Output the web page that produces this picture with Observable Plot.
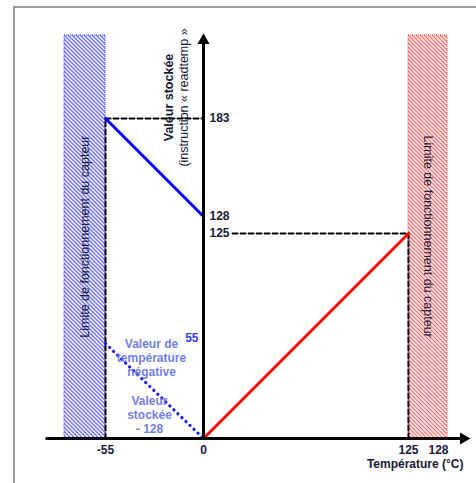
<!DOCTYPE html>
<html><head><meta charset="utf-8">
<script src="https://cdn.jsdelivr.net/npm/d3@7"></script>
<script src="https://cdn.jsdelivr.net/npm/@observablehq/plot@0.6"></script>
<style>
body{margin:0;background:#fff;}
#wrap{position:relative;width:476px;height:483px;overflow:hidden;}
#frame{position:absolute;left:13px;top:6px;width:600px;height:600px;border-left:2px solid #9a9a9a;border-top:2px solid #9a9a9a;}
svg{display:block;position:absolute;left:0;top:0;}
</style>
</head><body>
<div id="wrap"><div id="frame"></div><div id="chart"></div></div>
<script>
// ---- data ----
const xTickValues = [-55, 0, 125, 128];
const xTickLabels = ["-55", "0", "125", "128"];
const yTickValues = [183, 128, 125];
const yTickLabels = ["183", "128", "125"];
const negTemp = [-55, 0];          // blue segment: negative temperatures
const negStored = [183, 128];
const posTemp = [0, 125];          // red segment: positive temperatures
const posStored = [0, 125];
const rawTemp = [-55, 0];          // dotted: raw negative value
const rawValue = [55, 0];
const blueBand = [-78, -55];       // sensor limits (hatched)
const redBand = [125, 128.9];
const bandTop = 229.6;
const axisXEnd = [-88, 130.5];
const axisYTop = 226.8;
const guide125Start = 17.7;
const bandLabel = "Limite de fonctionnement du capteur";
const yTitle1 = "Valeur stockée";
const yTitle2 = "(instruction « readtemp »";
const xTitle = "Température (°C)";
const note1 = "Valeur de\ntempérature\nnégative";
const note2 = "Valeur\nstockée\n- 128";
const rawLabel = "55";

const line = (xs, ys) => xs.map((x, i) => ({x, y: ys[i]}));
const dark = "#1a1a3a";
const font = "Liberation Sans, Arial, sans-serif";
const dash = {stroke: "#000", strokeWidth: 2, strokeDasharray: "5,3"};

// schematic (piecewise) axes, as in the original drawing
const xPiece = d3.scaleLinear().domain([-55, 0, 125, 128]).range([105, 203, 408, 438]);
const yPiece = d3.scaleLinear().domain([0, 55, 125, 128, 183]).range([438, 343, 233, 216, 118]);

const svg = Plot.plot({
  width: 476, height: 483, margin: 0,
  style: {fontFamily: font, fontSize: "12px", background: "transparent"},
  x: {type: "linear", transform: xPiece, domain: [0, 476], range: [0, 476], axis: null},
  y: {type: "linear", transform: yPiece, domain: [0, 483], range: [0, 483], axis: null},
  marks: [
    Plot.rect([blueBand], {x1: d => d[0], x2: d => d[1], y1: () => 0, y2: () => bandTop, fill: "url(#hatchBlue)", stroke: "#4040ff", strokeWidth: 1, strokeDasharray: "1,1"}),
    Plot.rect([redBand], {x1: d => d[0], x2: d => d[1], y1: () => 0, y2: () => bandTop, fill: "url(#hatchRed)", stroke: "#ff4040", strokeWidth: 1, strokeDasharray: "1,1"}),
    Plot.text([bandLabel], {x: () => (blueBand[0] + blueBand[1]) / 2, y: () => 123, text: d => d, rotate: -90, fontSize: 12.5, fill: dark}),
    Plot.text([bandLabel], {x: () => (redBand[0] + redBand[1]) / 2, y: () => 123, text: d => d, rotate: 90, fontSize: 12.5, fill: dark}),
    // dashed guides
    Plot.line(line([negTemp[0], 0], [negStored[0], negStored[0]]), {x: "x", y: "y", ...dash}),
    Plot.line(line([negTemp[0], negTemp[0]], [0, negStored[0]]), {x: "x", y: "y", ...dash}),
    Plot.line(line([guide125Start, posTemp[1]], [posStored[1], posStored[1]]), {x: "x", y: "y", ...dash}),
    Plot.line(line([posTemp[1], posTemp[1]], [0, posStored[1]]), {x: "x", y: "y", ...dash}),
    // data lines
    Plot.line(line(rawTemp, rawValue), {x: "x", y: "y", stroke: "#1a1aff", strokeWidth: 3.2, strokeDasharray: "0.1,5.5", strokeLinecap: "round"}),
    Plot.line(line(negTemp, negStored), {x: "x", y: "y", stroke: "#0000ff", strokeWidth: 3}),
    Plot.line(line(posTemp, posStored), {x: "x", y: "y", stroke: "#ff0000", strokeWidth: 3}),
    // axes
    Plot.line(line(axisXEnd, [0, 0]), {x: "x", y: "y", stroke: "#000", strokeWidth: 3}),
    Plot.line(line([0, 0], [0, axisYTop]), {x: "x", y: "y", stroke: "#000", strokeWidth: 3}),
    Plot.dot([[axisXEnd[1], 0]], {x: d => d[0], y: d => d[1], symbol: "triangle", r: 4.5, fill: "#000", rotate: 90}),
    Plot.dot([[0, axisYTop]], {x: d => d[0], y: d => d[1], symbol: "triangle", r: 4.5, fill: "#000"}),
    // tick labels
    Plot.text(xTickValues, {x: d => d, y: () => 0, text: (d, i) => xTickLabels[i], dy: 12, fill: dark, fontSize: 12, fontWeight: "bold"}),
    Plot.text(yTickValues, {x: () => 0, y: d => d, text: (d, i) => yTickLabels[i], dx: 6, textAnchor: "start", fill: dark, fontSize: 12, fontWeight: "bold"}),
    Plot.text([rawLabel], {x: () => 0, y: () => rawValue[0], text: d => d, dx: -5, dy: -5, textAnchor: "end", fill: "#3c3ce8", fontWeight: "bold", fontSize: 12}),
    // titles
    Plot.text([xTitle], {x: () => axisXEnd[1], y: () => 0, text: d => d, dy: 26, textAnchor: "end", fill: dark, fontWeight: "bold", fontSize: 12}),
    Plot.text([yTitle1], {x: () => -19.6, y: () => 194.8, text: d => d, rotate: -90, fill: dark, fontWeight: "bold", fontSize: 12.5}),
    Plot.text([yTitle2], {x: () => -11.2, y: () => 194.8, text: d => d, rotate: -90, fill: dark, fontSize: 12.5}),
    // annotations
    Plot.text([note1], {x: () => -29.2, y: () => 47, text: d => d, fill: "#6874f0", fillOpacity: 0.95, fontWeight: "bold", fontSize: 12, lineHeight: 1.17}),
    Plot.text([note2], {x: () => -30.3, y: () => 14, text: d => d, fill: "#6874f0", fillOpacity: 0.95, fontWeight: "bold", fontSize: 12, lineHeight: 1.17})
  ]
});

const s = d3.select(svg);
const defs = s.insert("defs", ":first-child");
function hatch(id, color, period, w) {
  const p = defs.append("pattern").attr("id", id).attr("patternUnits", "userSpaceOnUse")
    .attr("width", period).attr("height", period).attr("patternTransform", "rotate(-45)");
  p.append("rect").attr("width", period).attr("height", period).attr("fill", "#fff");
  p.append("rect").attr("width", w).attr("height", period).attr("fill", color);
}
hatch("hatchBlue", "#5a5aff", 2.83, 1.3);
hatch("hatchRed", "#ff5a5a", 2.83, 1.2);
document.getElementById("chart").appendChild(svg);
</script>
</body></html>
